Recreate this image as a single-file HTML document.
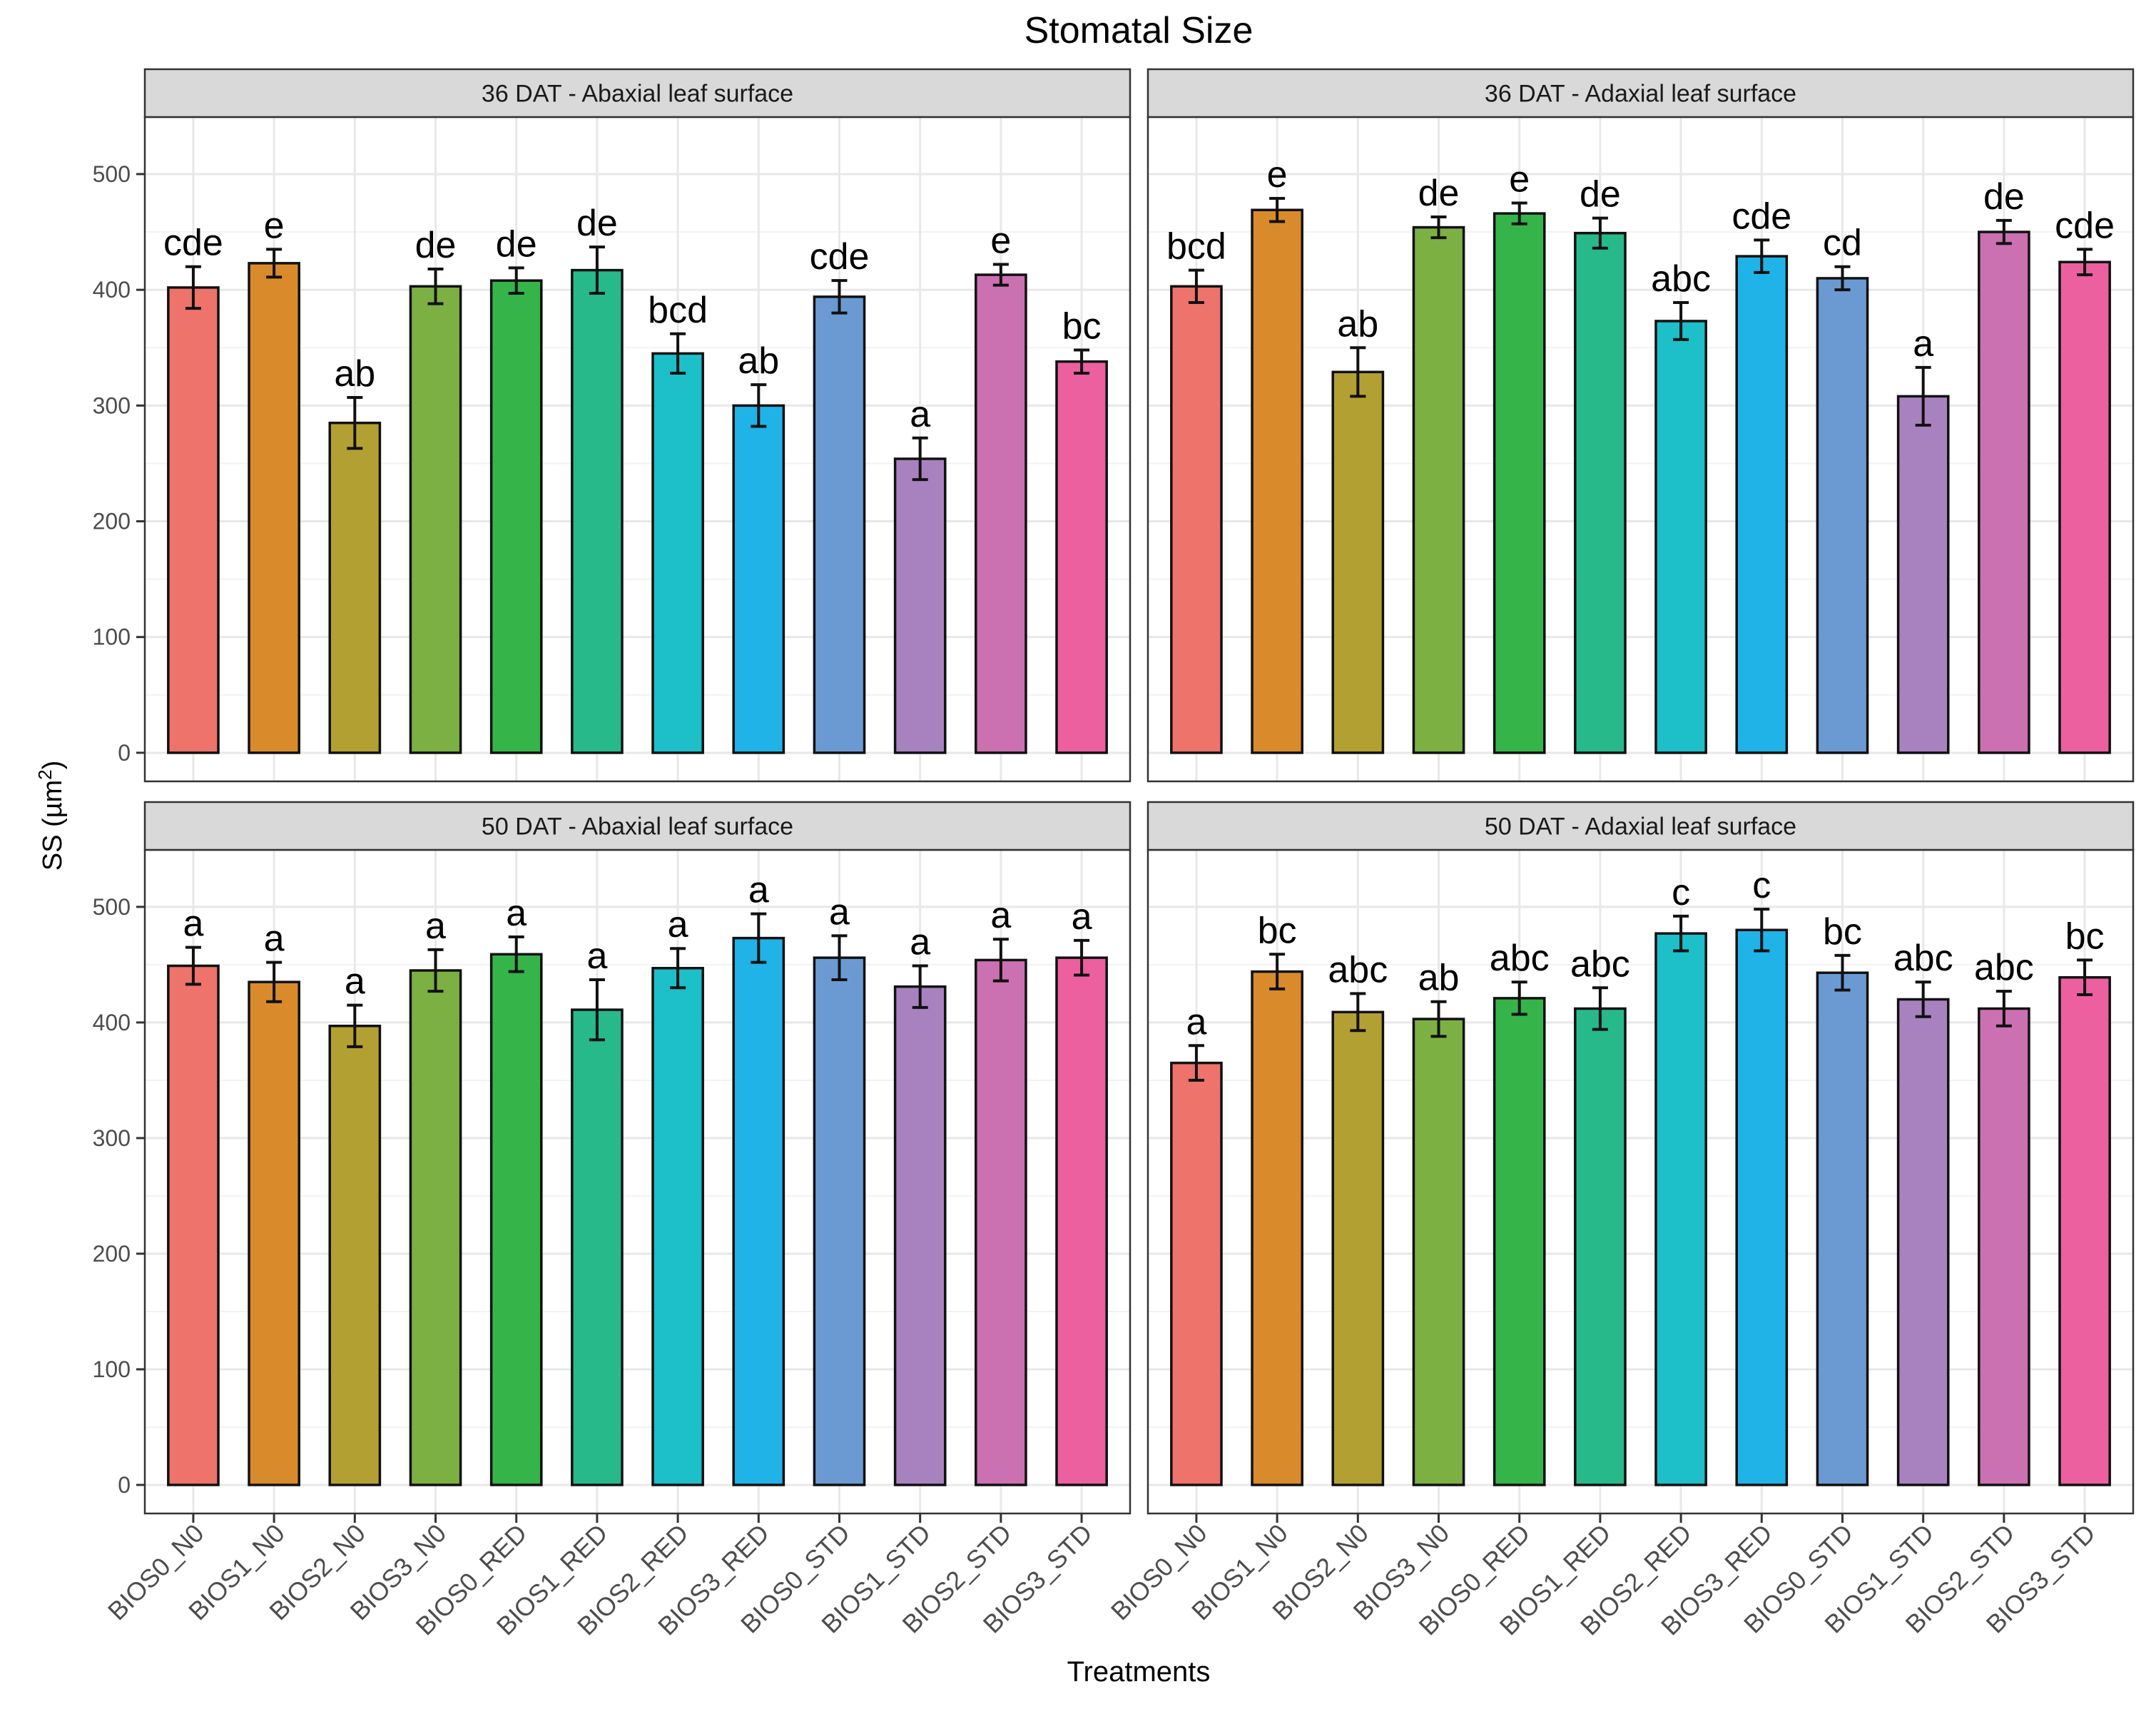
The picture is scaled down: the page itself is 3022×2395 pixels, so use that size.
<!DOCTYPE html>
<html><head><meta charset="utf-8"><style>
html,body{margin:0;padding:0;background:#fff;}
svg{display:block;font-family:"Liberation Sans",Arial,sans-serif;}
</style></head><body>
<svg id="chart" width="3022" height="2395" viewBox="0 0 3022 2395" xmlns="http://www.w3.org/2000/svg">
<text x="1596" y="60" font-size="52" text-anchor="middle" fill="#000">Stomatal Size</text>
<text transform="translate(86,1143) rotate(-90)" font-size="38" text-anchor="middle" fill="#000">SS (µm<tspan font-size="26" dy="-14">2</tspan><tspan dy="14">)</tspan></text>
<text x="1596" y="2356" font-size="40" text-anchor="middle" fill="#000">Treatments</text>
</svg>
<script>
const categories = ["BIOS0_N0","BIOS1_N0","BIOS2_N0","BIOS3_N0","BIOS0_RED","BIOS1_RED","BIOS2_RED","BIOS3_RED","BIOS0_STD","BIOS1_STD","BIOS2_STD","BIOS3_STD"];
const panelTitles = ["36 DAT - Abaxial leaf surface","36 DAT - Adaxial leaf surface","50 DAT - Abaxial leaf surface","50 DAT - Adaxial leaf surface"];
const means36Ab = [402,423,285,403,408,417,345,300,394,254,413,338];
const err36Ab = [18,12,22,15,11,20,17,18,14,18,9,10];
const letters36Ab = ["cde","e","ab","de","de","de","bcd","ab","cde","a","e","bc"];
const means36Ad = [403,469,329,454,466,449,373,429,410,308,450,424];
const err36Ad = [14,10,21,9,9,13,16,14,10,25,10,11];
const letters36Ad = ["bcd","e","ab","de","e","de","abc","cde","cd","a","de","cde"];
const means50Ab = [449,435,397,445,459,411,447,473,456,431,454,456];
const err50Ab = [16,17,18,18,15,26,17,21,19,18,18,15];
const letters50Ab = ["a","a","a","a","a","a","a","a","a","a","a","a"];
const means50Ad = [365,444,409,403,421,412,477,480,443,420,412,439];
const err50Ad = [15,15,16,15,14,18,15,18,15,15,15,15];
const letters50Ad = ["a","bc","abc","ab","abc","abc","c","c","bc","abc","abc","bc"];
const yTicks = [0,100,200,300,400,500];
const colors = ["#ee736b","#d98b2b","#b3a032","#7db043","#35b44a","#27b98a","#1dbfc8","#20b3e8","#6b9ad3","#a882bf","#cb70b0","#ec609f"];

const NS = "http://www.w3.org/2000/svg";
const svg = document.getElementById("chart");
function mk(tag, attrs, parent){ const e=document.createElementNS(NS,tag); for(const k in attrs) e.setAttribute(k,attrs[k]); (parent||svg).appendChild(e); return e; }

const panels = [
  {x0:203,x1:1584,st:97,sb:164,pb:1095,m:means36Ab,e:err36Ab,l:letters36Ab,t:panelTitles[0],left:true,bottom:false},
  {x0:1609,x1:2990,st:97,sb:164,pb:1095,m:means36Ad,e:err36Ad,l:letters36Ad,t:panelTitles[1],left:false,bottom:false},
  {x0:203,x1:1584,st:1124,sb:1191,pb:2121,m:means50Ab,e:err50Ab,l:letters50Ab,t:panelTitles[2],left:true,bottom:true},
  {x0:1609,x1:2990,st:1124,sb:1191,pb:2121,m:means50Ad,e:err50Ad,l:letters50Ad,t:panelTitles[3],left:false,bottom:true}
];
const yMin=-24.7, yMax=549.3;

panels.forEach((p,pi)=>{
  const g = mk("g",{});
  
  
  const step = (p.x1-p.x0)/12.2;
  const xs = i => p.x0 + (0.6+i)*step;
  const ys = v => p.pb - (v-yMin)/(yMax-yMin)*(p.pb-p.sb);
  mk("rect",{x:p.x0,y:p.sb,width:p.x1-p.x0,height:p.pb-p.sb,fill:"#fff"},g);
  for(let v=50; v<=550; v+=100){ if(v>yMax) break; mk("line",{x1:p.x0,x2:p.x1,y1:ys(v),y2:ys(v),stroke:"#f3f3f3","stroke-width":2},g); }
  yTicks.forEach(v=>{ mk("line",{x1:p.x0,x2:p.x1,y1:ys(v),y2:ys(v),stroke:"#e8e8e8","stroke-width":3},g); });
  categories.forEach((c,i)=>{ mk("line",{x1:xs(i),x2:xs(i),y1:p.sb,y2:p.pb,stroke:"#e8e8e8","stroke-width":3},g); });
  const bw = step*0.62;
  p.m.forEach((v,i)=>{
    const b = mk("rect",{x:xs(i)-bw/2,y:ys(v),width:bw,height:ys(0)-ys(v),fill:colors[i],stroke:"#111","stroke-width":3.5},g);
    
    
    const top=ys(v+p.e[i]), bot=ys(v-p.e[i]), cx=xs(i);
    const eg = mk("g",{stroke:"#111","stroke-width":4},g);
    
    
    mk("line",{x1:cx,x2:cx,y1:top,y2:bot},eg);
    mk("line",{x1:cx-11,x2:cx+11,y1:top,y2:top},eg);
    mk("line",{x1:cx-11,x2:cx+11,y1:bot,y2:bot},eg);
    const t = mk("text",{x:cx,y:top-16,"font-size":52,"text-anchor":"middle",fill:"#000"},g);
    t.textContent = p.l[i];
    
    
  });
  mk("rect",{x:p.x0,y:p.sb,width:p.x1-p.x0,height:p.pb-p.sb,fill:"none",stroke:"#333","stroke-width":2.5},g);
  const s = mk("rect",{x:p.x0,y:p.st,width:p.x1-p.x0,height:p.sb-p.st,fill:"#d9d9d9",stroke:"#333","stroke-width":2.5},g);
  
  
  const st = mk("text",{x:(p.x0+p.x1)/2,y:(p.st+p.sb)/2+12,"font-size":34,"text-anchor":"middle",fill:"#1a1a1a"},g);
  st.textContent = p.t;
  
  
  if(p.left){
    yTicks.forEach(v=>{
      mk("line",{x1:p.x0-12,x2:p.x0,y1:ys(v),y2:ys(v),stroke:"#333","stroke-width":3},g);
      const t = mk("text",{x:p.x0-20,y:ys(v)+11,"font-size":32,"text-anchor":"end",fill:"#4d4d4d"},g);
      t.textContent = v;
      
      
    });
  }
  if(p.bottom){
    categories.forEach((c,i)=>{
      mk("line",{x1:xs(i),x2:xs(i),y1:p.pb,y2:p.pb+13,stroke:"#333","stroke-width":3},g);
      const t = mk("text",{transform:`translate(${xs(i)+17},${p.pb+30}) rotate(-45)`,"font-size":36,"text-anchor":"end",fill:"#4d4d4d"},g);
      t.textContent = c;
      
      
    });
  }
});
</script>
</body></html>
